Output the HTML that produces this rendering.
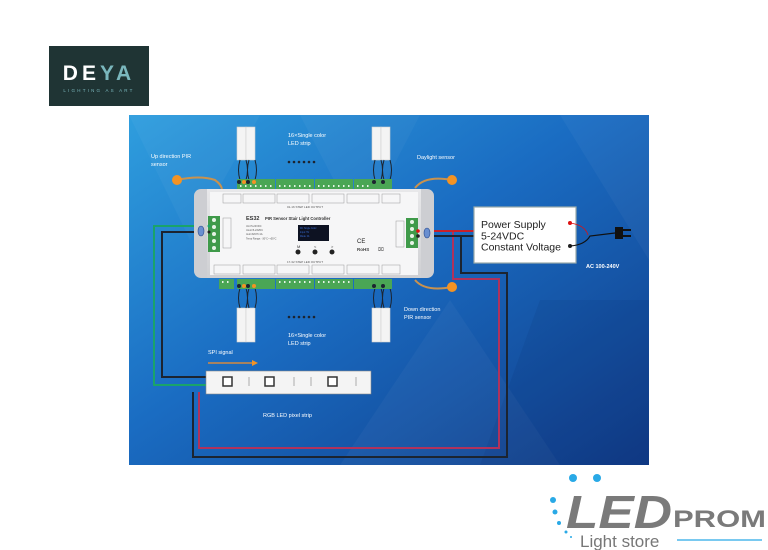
<!DOCTYPE html>
<html><head><meta charset="utf-8"><style>
html,body{margin:0;padding:0;background:#fff;width:768px;height:550px;overflow:hidden}
svg{display:block;font-family:"Liberation Sans",sans-serif}
</style></head><body>
<svg width="768" height="550" viewBox="0 0 768 550" xmlns="http://www.w3.org/2000/svg">
<defs>
<linearGradient id="bg" x1="0" y1="0" x2="1" y2="1">
<stop offset="0" stop-color="#2f9ede"/><stop offset="0.45" stop-color="#1a6cc2"/><stop offset="1" stop-color="#103a86"/>
</linearGradient>
<linearGradient id="body" x1="0" y1="0" x2="0" y2="1"><stop offset="0" stop-color="#e8e8ea"/><stop offset="1" stop-color="#cfd0d3"/></linearGradient>
</defs>
<rect width="768" height="550" fill="#fff"/>
<!-- DEYA logo -->
<rect x="49" y="46" width="100" height="60" fill="#1f3434"/>
<text x="99" y="80" font-size="21" fill="#fff" text-anchor="middle" letter-spacing="4" font-weight="bold">DE<tspan fill="#7ab7bd">YA</tspan></text>
<text x="99" y="92" font-size="4.5" fill="#7ab7bd" text-anchor="middle" letter-spacing="2.2">LIGHTING AS ART</text>

<!-- diagram bg -->
<rect x="129" y="115" width="520" height="350" fill="url(#bg)"/>
<g opacity="0.035" fill="#fff">
<polygon points="129,115 260,115 190,240"/><polygon points="300,115 420,115 360,230"/><polygon points="450,300 560,465 340,465"/><polygon points="560,115 649,115 649,260"/>
</g>
<g fill="#0a2a66" opacity="0.1"><polygon points="540,300 649,300 649,465 480,465"/></g>

<!-- wires -->
<g fill="none" stroke-width="2">
<polyline points="212,226 154,226 154,385 206,385" stroke="#1aa36a"/>
<polyline points="212,232 162,232 162,377 206,377" stroke="#1c2430"/>
<polyline points="193,392 193,457 507,457 507,273 461,273 461,236" stroke="#1c2430"/>
<polyline points="199,392 199,448 499,448 499,279 453,279 453,231" stroke="#b0325c"/>
<line x1="416" y1="231" x2="474" y2="231" stroke="#c8202a"/>
<line x1="416" y1="236" x2="474" y2="236" stroke="#1c2430"/>
</g>
<!-- orange sensors -->
<g fill="none" stroke="#c9924e" stroke-width="2">
<path d="M177,180 Q200,175 215,180 Q222,185 222,190"/>
<path d="M452,180 Q425,175 415,188"/>
<path d="M452,287 Q425,292 415,280"/>
</g>
<g fill="#f39324"><circle cx="177" cy="180" r="5"/><circle cx="452" cy="180" r="5"/><circle cx="452" cy="287" r="5"/></g>

<!-- LED strips -->
<g fill="#f4f4f4" stroke="#cfcfcf" stroke-width="0.6">
<rect x="237" y="127" width="9" height="33"/><rect x="246" y="127" width="9" height="33"/>
<rect x="372" y="127" width="9" height="33"/><rect x="381" y="127" width="9" height="33"/>
<rect x="237" y="308" width="9" height="34"/><rect x="246" y="308" width="9" height="34"/>
<rect x="372" y="308" width="9" height="34"/><rect x="381" y="308" width="9" height="34"/>
</g>
<g fill="none" stroke="#1c2430" stroke-width="1">
<path d="M240,160 q-3,10 0,20 M246,160 q3,10 0,20 M249,160 q-3,10 0,20 M255,160 q3,10 0,20"/>
<path d="M375,160 q-3,10 0,20 M381,160 q3,10 0,20 M384,160 q-3,10 0,20 M390,160 q3,10 0,20"/>
<path d="M240,308 q-3,-10 0,-20 M246,308 q3,-10 0,-20 M249,308 q-3,-10 0,-20 M255,308 q3,-10 0,-20"/>
<path d="M375,308 q-3,-10 0,-20 M381,308 q3,-10 0,-20 M384,308 q-3,-10 0,-20 M390,308 q3,-10 0,-20"/>
</g>
<!-- terminal blocks -->
<g fill="#4aa655">
<rect x="237" y="179" width="38" height="10"/><rect x="276" y="179" width="38" height="10"/><rect x="315" y="179" width="38" height="10"/><rect x="354" y="179" width="38" height="10"/>
<rect x="219" y="279" width="15" height="10"/><rect x="237" y="279" width="38" height="10"/><rect x="276" y="279" width="38" height="10"/><rect x="315" y="279" width="38" height="10"/><rect x="354" y="279" width="38" height="10"/>
</g>
<g fill="#e6f3e6">
<path d="M240,185h1.5v2h-1.5zM245,185h1.5v2h-1.5zM250,185h1.5v2h-1.5zM255,185h1.5v2h-1.5zM260,185h1.5v2h-1.5zM265,185h1.5v2h-1.5zM270,185h1.5v2h-1.5zM279,185h1.5v2h-1.5zM284,185h1.5v2h-1.5zM289,185h1.5v2h-1.5zM294,185h1.5v2h-1.5zM299,185h1.5v2h-1.5zM304,185h1.5v2h-1.5zM309,185h1.5v2h-1.5zM318,185h1.5v2h-1.5zM323,185h1.5v2h-1.5zM328,185h1.5v2h-1.5zM333,185h1.5v2h-1.5zM338,185h1.5v2h-1.5zM343,185h1.5v2h-1.5zM348,185h1.5v2h-1.5zM357,185h1.5v2h-1.5zM362,185h1.5v2h-1.5zM367,185h1.5v2h-1.5z"/>
<path d="M279,281h1.5v2h-1.5zM284,281h1.5v2h-1.5zM289,281h1.5v2h-1.5zM294,281h1.5v2h-1.5zM299,281h1.5v2h-1.5zM304,281h1.5v2h-1.5zM309,281h1.5v2h-1.5zM318,281h1.5v2h-1.5zM323,281h1.5v2h-1.5zM328,281h1.5v2h-1.5zM333,281h1.5v2h-1.5zM338,281h1.5v2h-1.5zM343,281h1.5v2h-1.5zM348,281h1.5v2h-1.5zM222,281h1.5v2h-1.5zM227,281h1.5v2h-1.5z"/>
</g>
<g fill="#1c2430"><circle cx="239" cy="182" r="2"/><circle cx="248" cy="182" r="2"/><circle cx="374" cy="182" r="2"/><circle cx="383" cy="182" r="2"/><circle cx="239" cy="286" r="2"/><circle cx="248" cy="286" r="2"/><circle cx="374" cy="286" r="2"/><circle cx="383" cy="286" r="2"/></g>
<g fill="#f39324"><circle cx="244" cy="182" r="2"/><circle cx="254" cy="182" r="2"/><circle cx="244" cy="286" r="2"/><circle cx="254" cy="286" r="2"/></g>
<g fill="#1c2430"><circle cx="289" cy="162" r="1.3"/><circle cx="294" cy="162" r="1.3"/><circle cx="299" cy="162" r="1.3"/><circle cx="304" cy="162" r="1.3"/><circle cx="309" cy="162" r="1.3"/><circle cx="314" cy="162" r="1.3"/>
<circle cx="289" cy="317" r="1.3"/><circle cx="294" cy="317" r="1.3"/><circle cx="299" cy="317" r="1.3"/><circle cx="304" cy="317" r="1.3"/><circle cx="309" cy="317" r="1.3"/><circle cx="314" cy="317" r="1.3"/></g>

<!-- controller body -->
<rect x="194" y="189" width="240" height="89" rx="7" fill="#cdced2"/>
<rect x="207" y="189" width="214" height="89" fill="url(#body)"/>
<rect x="210" y="192" width="208" height="83" fill="#f6f6f7"/>
<rect x="208" y="216" width="12" height="36" fill="#3f9a4a"/>
<rect x="406" y="218" width="12" height="30" fill="#3f9a4a"/>
<g fill="#e6f3e6"><circle cx="214" cy="220" r="2"/><circle cx="214" cy="227" r="2"/><circle cx="214" cy="234" r="2"/><circle cx="214" cy="241" r="2"/><circle cx="214" cy="248" r="2"/>
<circle cx="412" cy="222" r="2"/><circle cx="412" cy="229" r="2"/><circle cx="412" cy="236" r="2"/><circle cx="412" cy="243" r="2"/></g>
<g fill="none" stroke="#999" stroke-width="0.5">
<rect x="223" y="194" width="18" height="9"/><rect x="243" y="194" width="32" height="9"/><rect x="277" y="194" width="32" height="9"/><rect x="312" y="194" width="32" height="9"/><rect x="347" y="194" width="32" height="9"/><rect x="382" y="194" width="18" height="9"/>
<rect x="214" y="265" width="26" height="9"/><rect x="243" y="265" width="32" height="9"/><rect x="277" y="265" width="32" height="9"/><rect x="312" y="265" width="32" height="9"/><rect x="347" y="265" width="32" height="9"/><rect x="382" y="265" width="18" height="9"/>
<rect x="223" y="218" width="8" height="30"/><rect x="396" y="221" width="8" height="26"/>
</g>
<text x="305" y="208" font-size="3" fill="#555" text-anchor="middle">01-16 STEP LED OUTPUT</text>
<text x="305" y="263" font-size="3" fill="#555" text-anchor="middle">17-32 STEP LED OUTPUT</text>
<text x="246" y="220" font-size="5.5" font-weight="bold" fill="#333">ES32</text>
<text x="265" y="220" font-size="4.2" font-weight="bold" fill="#333">PIR Sensor Stair Light Controller</text>
<text x="246" y="227" font-size="2.5" fill="#555">Uin=5-24VDC</text>
<text x="246" y="231" font-size="2.5" fill="#555">Uout=5-24VDC</text>
<text x="246" y="235" font-size="2.5" fill="#555">Iout=32CH×1A</text>
<text x="246" y="239.5" font-size="2.5" fill="#555">Temp Range: -30°C~+55°C</text>
<rect x="298" y="225" width="31" height="16" fill="#0d1222"/>
<g fill="#3a6fd8" font-size="2.3"><text x="300" y="229">DC Single Color</text><text x="300" y="233">Input: 5V</text><text x="300" y="237">Mode: 01</text></g>
<text x="297" y="248" font-size="4" fill="#333">M</text><text x="314" y="248" font-size="4" fill="#333">&lt;</text><text x="331" y="248" font-size="4" fill="#333">&gt;</text>
<g fill="#222"><circle cx="298" cy="252" r="2.5"/><circle cx="315" cy="252" r="2.5"/><circle cx="332" cy="252" r="2.5"/></g>
<text x="357" y="243" font-size="6" fill="#222">CE</text>
<text x="357" y="251" font-size="4.5" font-weight="bold" fill="#444">RoHS</text>
<text x="378" y="251" font-size="5" fill="#444">⌧</text>
<g fill="#6a8fd0" stroke="#2a4c90" stroke-width="0.6"><ellipse cx="201" cy="231" rx="3" ry="5"/><ellipse cx="427" cy="233" rx="3" ry="5"/></g>
<circle cx="418" cy="231" r="1.8" fill="#d11"/><circle cx="418" cy="236" r="1.8" fill="#222"/>
<circle cx="209" cy="226" r="1.5" fill="#1aa36a"/><circle cx="209" cy="232" r="1.5" fill="#222"/>

<!-- power supply -->
<rect x="474" y="207" width="102" height="56" fill="#fff" stroke="#9aa" stroke-width="1.2"/>
<g font-size="10.5" fill="#222"><text x="481" y="228">Power Supply</text><text x="481" y="239.5">5-24VDC</text><text x="481" y="250.5">Constant Voltage</text></g>
<circle cx="570" cy="223" r="2" fill="#d11"/><circle cx="570" cy="246" r="2" fill="#222"/>
<path d="M570,223 Q585,225 588,235" fill="none" stroke="#d11" stroke-width="0.8"/>
<path d="M570,246 Q585,245 590,236 L615,233" fill="none" stroke="#111" stroke-width="1.2"/>
<path d="M615,227 h8 v12 h-8 z" fill="#111"/><rect x="623" y="229" width="8" height="2" fill="#111"/><rect x="623" y="235" width="8" height="2" fill="#111"/>

<!-- pixel strip -->
<rect x="206" y="371" width="165" height="23" fill="#f4f4f4" stroke="#888" stroke-width="0.6"/>
<g fill="#fff" stroke="#333" stroke-width="1.5"><rect x="223" y="377" width="9" height="9"/><rect x="265" y="377" width="9" height="9"/><rect x="328" y="377" width="9" height="9"/></g>
<g fill="#d0d0d0"><rect x="248" y="377" width="2" height="9"/><rect x="293" y="377" width="2" height="9"/><rect x="310" y="377" width="2" height="9"/><rect x="355" y="377" width="2" height="9"/></g>
<line x1="208" y1="363" x2="252" y2="363" stroke="#d4893f" stroke-width="1.5"/><polygon points="252,360 258,363 252,366" fill="#f39324"/>

<!-- labels -->
<g font-size="5.5" fill="#fff">
<text x="151" y="158">Up direction PIR</text><text x="151" y="166">sensor</text>
<text x="288" y="137">16×Single color</text><text x="288" y="145">LED strip</text>
<text x="417" y="159">Daylight sensor</text>
<text x="404" y="311">Down direction</text><text x="404" y="319">PIR sensor</text>
<text x="288" y="337">16×Single color</text><text x="288" y="345">LED strip</text>
<text x="208" y="354">SPI signal</text>
<text x="263" y="417">RGB LED pixel strip</text>
<text x="586" y="268" font-weight="bold">AC 100-240V</text>
</g>

<!-- LEDPROM logo -->
<g fill="#29a9e6"><circle cx="573" cy="478" r="4"/><circle cx="597" cy="478" r="4"/><circle cx="553" cy="500" r="3"/><circle cx="555" cy="512" r="2.5"/><circle cx="559" cy="523" r="2"/><circle cx="566" cy="532" r="1.5"/><circle cx="571" cy="537" r="1"/></g>
<text x="566" y="528" font-size="46" font-weight="bold" font-style="italic" fill="#7a7a7a" textLength="106" lengthAdjust="spacingAndGlyphs">LED</text>
<text x="673" y="527" font-size="24" font-weight="bold" fill="#7a7a7a" textLength="93" lengthAdjust="spacingAndGlyphs">PROM</text>
<text x="580" y="547" font-size="17" fill="#777">Light store</text>
<line x1="677" y1="540" x2="762" y2="540" stroke="#29a9e6" stroke-width="1.3"/>
</svg>
</body></html>
